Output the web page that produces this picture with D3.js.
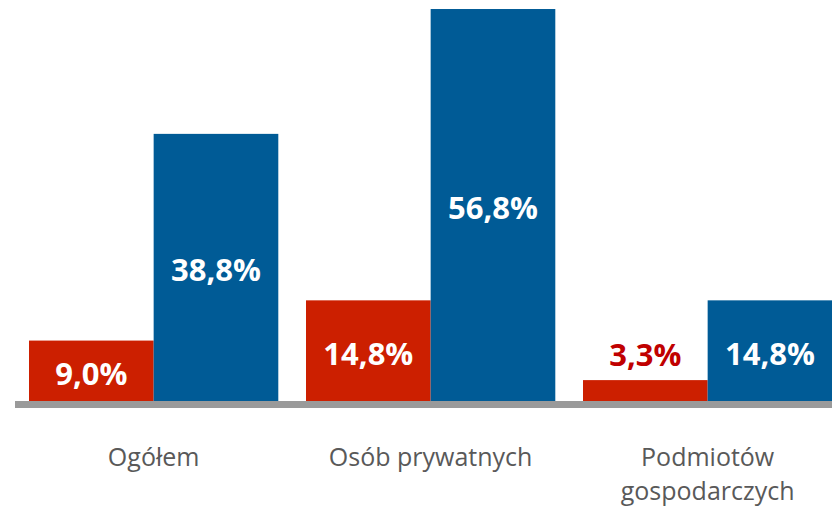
<!DOCTYPE html>
<html>
<head>
<meta charset="utf-8">
<script src="https://cdn.jsdelivr.net/npm/d3@7"></script>
<style>
  body { margin: 0; background: #fff; }
  .valLabel { font-family: "Open Sans", sans-serif; font-weight: 700; font-size: 31px; }
  .catLabel { font-family: "Open Sans", sans-serif; font-size: 25px; fill: #595959; }
</style>
</head>
<body>
<div class="chart"></div>
<script>
// data
var categories = [["Ogółem"], ["Osób prywatnych"], ["Podmiotów", "gospodarczych"]];
var seriesNames = ["red", "blue"];
var redValues = [9.0, 14.8, 3.3];
var blueValues = [38.8, 56.8, 14.8];

var svgWidth = 832, svgHeight = 509;
var baseY = 403;

var colors = { red: "#CC1F00", blue: "#005B96" };

var data = categories.map(function(c, i) {
    return { cat: c.join(" "), lines: c, values: [
        { key: "red", value: redValues[i] },
        { key: "blue", value: blueValues[i] }
    ]};
});

var svg = d3.select(".chart").append("svg")
    .attr("width", svgWidth)
    .attr("height", svgHeight);

var x0 = d3.scaleBand()
    .domain(data.map(d => d.cat))
    .range([1.3, 860])
    .padding(0.1);

var x1 = d3.scaleBand()
    .domain(seriesNames)
    .range([0, x0.bandwidth()]);

var y = d3.scaleLinear()
    .domain([0, 58.1])
    .range([baseY, 0]);

var groups = svg.selectAll("g.grp")
    .data(data)
    .enter()
    .append("g")
    .attr("class", "grp")
    .attr("transform", d => "translate(" + x0(d.cat) + ",0)");

groups.selectAll("rect")
    .data(d => d.values)
    .enter()
    .append("rect")
    .attr("x", d => x1(d.key))
    .attr("width", x1.bandwidth())
    .attr("y", d => y(d.value))
    .attr("height", d => baseY - y(d.value))
    .attr("fill", d => colors[d.key]);

// gray base line
svg.append("rect")
    .attr("x", 15)
    .attr("y", 401)
    .attr("width", svgWidth - 15)
    .attr("height", 7)
    .attr("fill", "#9a9a9a");

// value labels
groups.selectAll("text.valLabel")
    .data(d => d.values)
    .enter()
    .append("text")
    .attr("class", "valLabel")
    .attr("text-anchor", "middle")
    .attr("x", d => x1(d.key) + x1.bandwidth() / 2)
    .attr("y", function(d) {
        var top = y(d.value);
        // small bars get the label above
        if (401 - top < 40) return top - 14;
        return (top + 401) / 2 + 14;
    })
    .attr("fill", function(d) {
        return (401 - y(d.value) < 40) ? "#C00000" : "#fff";
    })
    .text(d => d.value.toFixed(1).replace(".", ",") + "%");

// category labels, one text per line
data.forEach(function(d) {
    d.lines.forEach(function(line, i) {
        svg.append("text")
            .attr("class", "catLabel")
            .attr("text-anchor", "middle")
            .attr("x", x0(d.cat) + x0.bandwidth() / 2)
            .attr("y", 466 + i * 34)
            .text(line);
    });
});
</script>
</body>
</html>
